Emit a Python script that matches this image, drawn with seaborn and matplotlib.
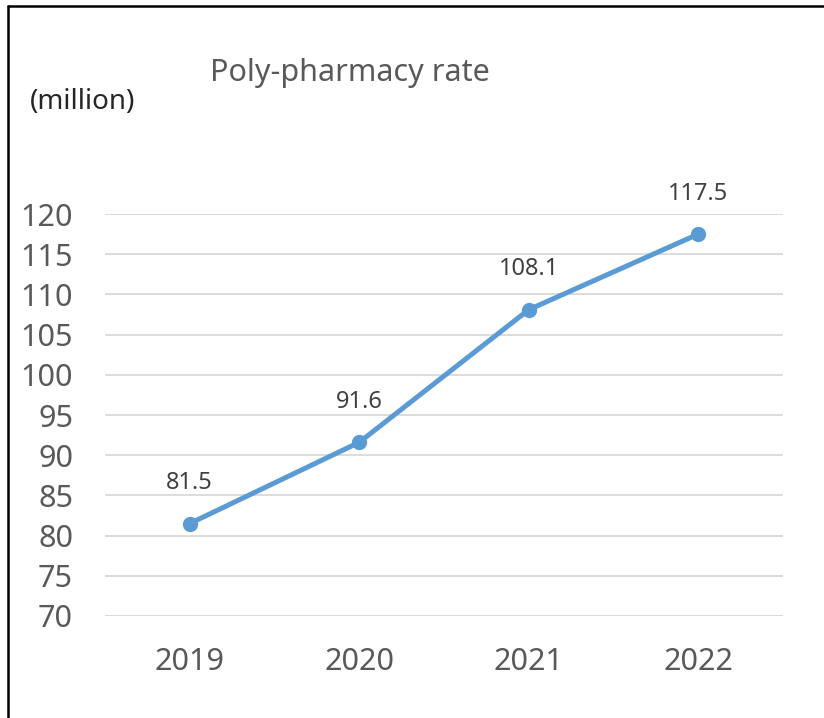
import matplotlib
matplotlib.use("Agg")
import matplotlib.pyplot as plt
import matplotlib.lines as mlines
import seaborn as sns
import pandas as pd

years = ["2019", "2020", "2021", "2022"]
values = [81.5, 91.6, 108.1, 117.5]
y_ticks = [70, 75, 80, 85, 90, 95, 100, 105, 110, 115, 120]

sns.set_theme(style="white")
plt.rcParams["font.family"] = ["Noto Sans", "DejaVu Sans"]

df = pd.DataFrame({"year": years, "value": values})

fig = plt.figure(figsize=(8.24, 7.18), dpi=100)
ax = fig.add_axes([0.1274, 0.1421, 0.8228, 0.5598])

sns.lineplot(data=df, x="year", y="value", ax=ax, color="#5B9BD5",
             linewidth=3.6, marker="o", markersize=11,
             markeredgewidth=0, sort=False)

ax.set_xlim(-0.5, 3.5)
ax.set_ylim(70, 120)
ax.set_yticks(y_ticks)
ax.yaxis.grid(True, color="#D9D9D9", linewidth=1.3)
ax.set_axisbelow(True)
for s in ax.spines.values():
    s.set_visible(False)
ax.tick_params(axis="both", length=0, labelsize=22, labelcolor="#595959")
ax.tick_params(axis="y", pad=23)
ax.tick_params(axis="x", pad=22)
ax.set_xlabel("")
ax.set_ylabel("")

# etiquetas de datos
for i, v in enumerate(values):
    ax.annotate(f"{v}", (i, v), xytext=(0, 29), textcoords="offset points",
                ha="center", va="center", fontsize=17, color="#404040",
                annotation_clip=False)

fig.text(0.425, 0.898, "Poly-pharmacy rate", ha="center", va="center",
         fontsize=22, color="#595959")
fig.text(0.036, 0.858, "(million)", ha="left", va="center",
         fontsize=20, color="#262626")

# marco
fig.add_artist(mlines.Line2D([0.0097, 0.0097], [0, 0.9916],
                             transform=fig.transFigure, color="black", lw=1.8))
fig.add_artist(mlines.Line2D([0.0097, 1.0], [0.9916, 0.9916],
                             transform=fig.transFigure, color="black", lw=1.8))

fig.savefig("out.png", dpi=100, facecolor="white")
